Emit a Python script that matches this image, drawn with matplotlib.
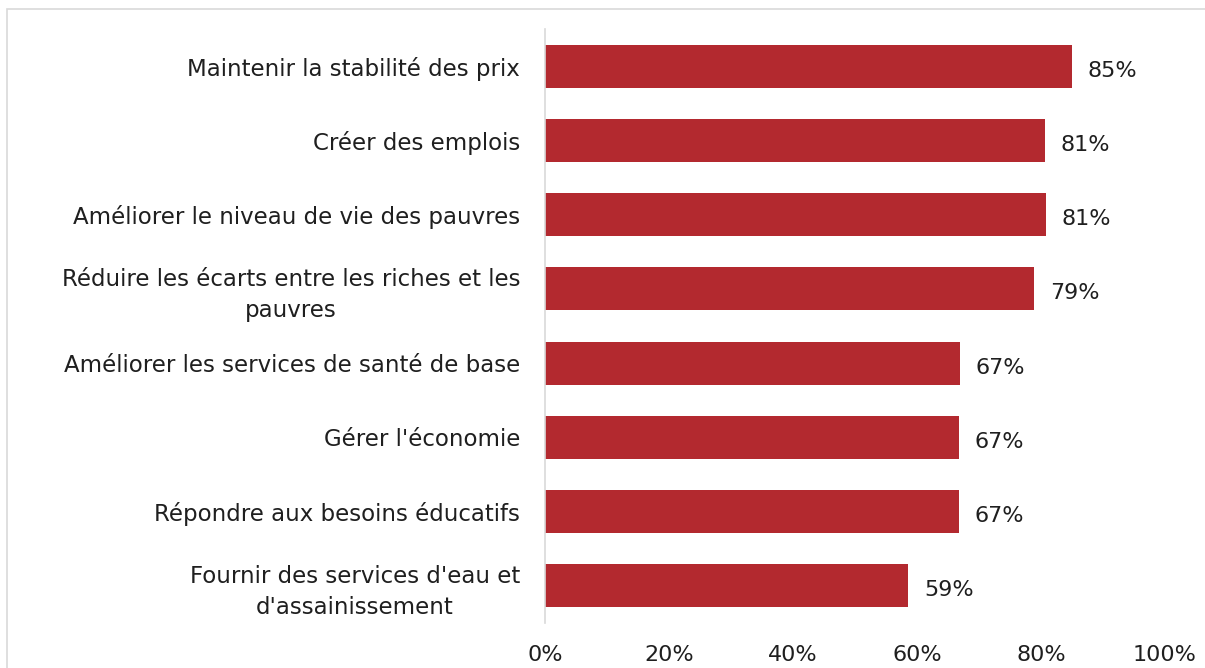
import matplotlib.pyplot as plt
from matplotlib.patches import Rectangle

# Objectifs prioritaires - part des répondants (%)
categories = [
    "Maintenir la stabilité des prix",
    "Créer des emplois",
    "Améliorer le niveau de vie des pauvres",
    "Réduire les écarts entre les riches et les\npauvres",
    "Améliorer les services de santé de base",
    "Gérer l'économie",
    "Répondre aux besoins éducatifs",
    "Fournir des services d'eau et\nd'assainissement",
]
values = [85.0, 80.6, 80.8, 78.9, 67.0, 66.7, 66.7, 58.6]
xticks = [0, 20, 40, 60, 80, 100]

plt.rcParams["font.family"] = ["DejaVu Sans"]

fig = plt.figure(figsize=(12.05, 6.68), dpi=100)
ax = fig.add_axes([0.4523, 0.0674, 0.5145, 0.8892])

# light frame around the chart area
fig.patches.append(Rectangle((7 / 1205, -0.1), 1.2, 1 - 9 / 668 + 0.1,
                             transform=fig.transFigure, fill=False,
                             edgecolor="#D9D9D9", linewidth=1.2))

y = list(range(len(categories)))
ax.barh(y, values, height=0.58, color="#B3292F")
for yi, v in zip(y, values):
    ax.text(v + 2.5, yi + 0.06, f"{round(v)}%", va="center", ha="left",
            fontsize=16, color="#1f1f1f")

ax.set_ylim(len(categories) - 0.5, -0.5)
ax.set_xlim(0, 100)
ax.set_yticks(y)
ax.set_yticklabels(categories, fontsize=16.5, color="#1f1f1f",
                   multialignment="center", linespacing=1.4)
ax.set_xticks(xticks)
ax.set_xticklabels([f"{t}%" for t in xticks], fontsize=16, color="#1f1f1f")
ax.tick_params(axis="both", length=0)
ax.tick_params(axis="y", pad=18)
ax.tick_params(axis="x", pad=16)

for s in ["top", "right", "bottom"]:
    ax.spines[s].set_visible(False)
ax.spines["left"].set_color("#D9D9D9")
ax.spines["left"].set_linewidth(1.2)

fig.savefig("out.png", dpi=100)
